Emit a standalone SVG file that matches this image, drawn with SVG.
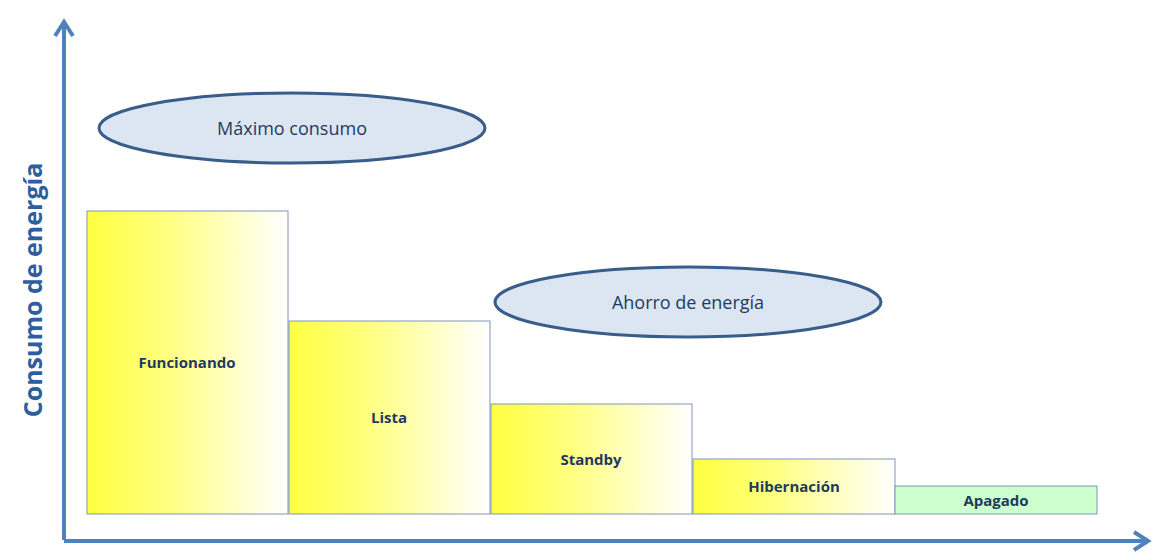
<svg xmlns="http://www.w3.org/2000/svg" width="1170" height="560" viewBox="0 0 1170 560">
<style>
.bar{stroke:#8096b8;stroke-width:1}
.lbl{font-family:"Open Sans","Liberation Sans",sans-serif;font-weight:bold;font-size:15px;fill:#1f3a5f;text-anchor:middle}
.ell{fill:#dce6f2;stroke:#385d8a;stroke-width:3}
.etx{font-family:"Open Sans","Liberation Sans",sans-serif;font-size:18px;fill:#1f3a64;text-anchor:middle}
.ax{stroke:#4f81bd;stroke-width:4;fill:none}
</style>
<defs>
<linearGradient id="y" x1="0" x2="1" y1="0" y2="0">
<stop offset="0" stop-color="#ffff40"/><stop offset="0.4" stop-color="#ffff80"/><stop offset="1" stop-color="#ffffff"/>
</linearGradient>
</defs>
<g id="connectors">
<path class="ax" d="M64 540 V22 M55 36 L64 22 L73 36"/>
<path class="ax" d="M64 541 H1148 M1134 532 L1148 541 L1134 550"/>
</g>
<text transform="translate(42 290) rotate(-90)" font-family="'Open Sans','Liberation Sans',sans-serif" font-weight="bold" font-size="25" fill="#2e5e9e" text-anchor="middle">Consumo de energía</text>
<g id="max"><ellipse class="ell" cx="292" cy="128" rx="193" ry="35"/><text class="etx" x="292" y="135">Máximo consumo</text></g>
<g id="ahorro"><ellipse class="ell" cx="688" cy="302" rx="193" ry="35"/><text class="etx" x="688" y="309">Ahorro de energía</text></g>
<g id="funcionando"><rect class="bar" x="87" y="211" width="201" height="303" fill="url(#y)"/><text class="lbl" x="187" y="368">Funcionando</text></g>
<g id="lista"><rect class="bar" x="289" y="321" width="201" height="193" fill="url(#y)"/><text class="lbl" x="389" y="423">Lista</text></g>
<g id="standby"><rect class="bar" x="491" y="404" width="201" height="110" fill="url(#y)"/><text class="lbl" x="591" y="465">Standby</text></g>
<g id="hibernacion"><rect class="bar" x="693" y="459" width="202" height="55" fill="url(#y)"/><text class="lbl" x="794" y="492">Hibernación</text></g>
<g id="apagado"><rect class="bar" x="895" y="486" width="202" height="28" fill="#ccffcc"/><text class="lbl" x="996" y="506">Apagado</text></g>
</svg>
